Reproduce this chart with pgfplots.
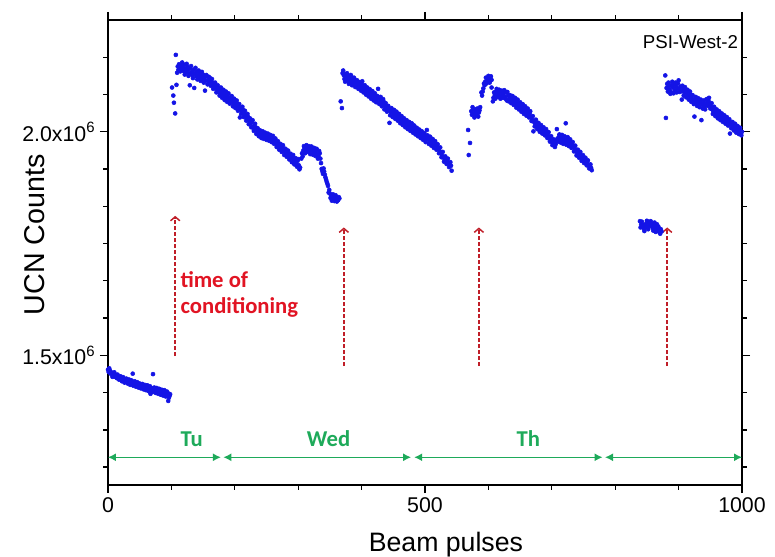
\documentclass[border=0pt]{standalone}
\usepackage{pgfplots}
\pgfplotsset{compat=1.18}
\usepackage{fontspec}
\setmainfont{Liberation Sans}
\newfontfamily\calibri{Carlito}
\usetikzlibrary{arrows.meta}
\definecolor{dotblue}{RGB}{20,20,230}
\definecolor{arrred}{RGB}{192,30,40}
\definecolor{txtred}{RGB}{225,20,35}
\definecolor{grn}{RGB}{30,170,90}

% UCN counts (in units of 10^6) vs beam pulse number
\pgfplotstableread{
x y
0 1.468
1 1.463
3 1.466
4 1.459
6 1.461
8 1.455
9 1.458
11 1.452
12 1.456
14 1.449
16 1.453
18 1.450
19 1.446
21 1.449
23 1.444
25 1.447
27 1.441
28 1.445
30 1.440
32 1.443
34 1.438
36 1.441
38 1.436
39 1.459
41 1.439
43 1.434
45 1.437
47 1.432
49 1.436
51 1.430
53 1.434
55 1.428
57 1.432
59 1.427
61 1.431
63 1.424
65 1.429
67 1.414
68 1.423
69 1.427
71 1.458
72 1.421
74 1.426
76 1.420
78 1.424
80 1.418
82 1.422
84 1.416
86 1.421
88 1.415
90 1.419
92 1.412
94 1.416
95 1.398
96 1.414
97 1.409
98 1.413
101 2.099
103 2.081
104 2.065
106 2.041
107 2.172
108 2.105
109 2.132
110 2.146
111 2.138
112 2.151
113 2.142
114 2.135
115 2.148
116 2.140
118 2.145
119 2.136
120 2.150
122 2.141
123 2.133
125 2.146
126 2.139
128 2.131
129 2.104
130 2.141
132 2.133
133 2.127
135 2.138
136 2.098
137 2.130
139 2.124
140 2.134
142 2.127
144 2.120
145 2.131
147 2.125
149 2.118
150 2.128
152 2.121
153 2.092
154 2.114
156 2.124
158 2.116
160 2.110
161 2.120
163 2.112
165 2.104
167 2.108
168 2.098
170 2.101
172 2.093
174 2.097
175 2.088
177 2.092
179 2.083
181 2.088
183 2.079
185 2.083
187 2.075
189 2.079
191 2.071
193 2.075
194 2.068
196 2.072
198 2.064
200 2.068
202 2.060
204 2.063
206 2.055
208 2.032
209 2.051
211 2.046
213 2.049
215 2.040
217 2.036
219 2.030
221 2.033
223 2.024
225 2.019
227 2.022
229 2.012
231 2.008
233 2.010
235 2.002
237 1.998
239 2.000
241 1.994
243 1.996
245 1.991
247 1.993
249 1.989
251 1.992
253 1.987
255 1.989
257 1.984
259 1.987
261 1.982
263 1.978
265 1.975
267 1.971
269 1.973
271 1.967
273 1.963
275 1.966
277 1.960
279 1.956
281 1.952
283 1.955
285 1.948
287 1.944
289 1.941
291 1.945
293 1.937
295 1.933
297 1.929
299 1.935
301 1.925
303 1.920
305 1.940
306 1.952
308 1.958
310 1.963
312 1.960
314 1.966
316 1.962
318 1.958
320 1.963
322 1.957
324 1.960
326 1.954
328 1.958
330 1.950
332 1.946
334 1.952
335 1.940
337 1.917
339 1.906
341 1.911
343 1.898
345 1.888
347 1.879
349 1.870
350 1.862
352 1.857
354 1.852
356 1.855
358 1.850
360 1.853
362 1.849
364 1.854
365 1.851
367 2.068
369 2.053
370 2.131
372 2.126
373 2.118
375 2.129
376 2.121
378 2.114
379 2.125
381 2.118
382 2.110
384 2.122
386 2.115
387 2.108
389 2.117
391 2.110
392 2.103
394 2.112
396 2.105
398 2.099
400 2.107
402 2.100
404 2.094
406 2.098
408 2.090
410 2.094
412 2.086
414 2.089
416 2.081
418 2.085
420 2.077
422 2.080
424 2.073
426 2.096
427 2.076
429 2.068
431 2.072
433 2.064
435 2.067
437 2.058
439 2.054
441 2.048
443 2.051
444 2.020
446 2.044
448 2.047
450 2.040
452 2.043
454 2.036
456 2.039
458 2.031
460 2.034
462 2.026
464 2.029
466 2.021
468 2.025
470 2.017
472 2.020
474 2.013
476 2.017
478 2.009
480 2.013
482 2.006
484 2.009
486 2.001
488 2.004
490 1.997
492 2.000
494 1.993
496 1.996
498 1.989
500 1.992
502 1.984
503 2.004
505 1.987
507 1.980
509 1.983
511 1.976
513 1.979
515 1.971
517 1.974
519 1.966
521 1.962
523 1.957
525 1.952
527 1.947
529 1.943
531 1.938
533 1.934
535 1.937
537 1.930
539 1.926
540 1.932
542 1.913
568 2.004
569 1.948
571 1.975
573 2.046
574 2.038
576 2.050
577 2.041
579 2.036
580 2.047
582 2.040
583 2.052
585 2.043
587 2.055
589 2.088
590 2.081
592 2.097
594 2.104
595 2.112
597 2.108
599 2.118
601 2.113
603 2.120
605 2.116
605 2.099
607 2.068
608 2.076
610 2.082
612 2.090
614 2.084
616 2.087
618 2.080
620 2.088
622 2.082
624 2.086
626 2.079
628 2.089
629 2.070
631 2.082
633 2.076
635 2.071
637 2.075
639 2.066
641 2.070
643 2.061
645 2.065
647 2.057
649 2.060
651 2.052
653 2.056
655 2.047
657 2.051
659 2.043
661 2.046
663 2.039
665 2.042
667 2.034
669 2.028
671 2.001
672 2.022
674 2.017
676 2.020
678 2.011
680 2.014
682 2.006
684 2.009
686 2.002
688 2.005
690 1.998
692 2.001
694 1.993
696 1.988
698 1.983
700 1.978
702 1.974
704 1.977
706 1.972
708 2.006
709 1.985
711 1.988
713 1.983
715 1.987
717 1.980
719 1.984
721 1.978
722 2.019
724 1.982
726 1.976
728 1.979
730 1.972
732 1.975
734 1.968
736 1.963
738 1.958
740 1.953
742 1.948
744 1.951
746 1.943
748 1.940
750 1.943
752 1.936
754 1.933
756 1.930
758 1.926
760 1.922
762 1.919
763 1.914
839 1.800
841 1.793
843 1.787
845 1.784
847 1.791
849 1.795
851 1.788
853 1.798
855 1.796
857 1.790
859 1.785
861 1.791
863 1.782
865 1.787
867 1.779
869 1.784
871 1.772
873 1.777
879 2.126
880 2.031
881 2.098
882 2.107
883 2.090
885 2.101
886 2.094
888 2.104
889 2.088
891 2.099
893 2.106
894 2.093
896 2.102
898 2.096
899 2.108
901 2.097
903 2.101
904 2.091
905 2.072
907 2.096
909 2.088
911 2.092
913 2.085
915 2.089
917 2.080
919 2.083
921 2.075
923 2.070
925 2.034
926 2.072
928 2.066
930 2.071
932 2.063
934 2.067
936 2.026
937 2.060
939 2.064
941 2.057
943 2.061
945 2.066
947 2.070
949 2.063
951 2.056
953 2.050
955 2.046
957 2.049
959 2.041
961 2.044
963 2.037
965 2.040
967 2.033
969 2.036
971 2.029
973 2.032
975 2.026
977 2.029
979 2.022
981 1.996
982 2.019
984 2.015
986 2.011
988 2.013
990 2.006
992 2.009
994 2.003
996 2.005
998 1.999
1000 2.000
}\ucndata

% further points
\pgfplotstableread{
x y
2 1.471
5 1.462
7 1.452
10 1.462
13 1.451
15 1.457
17 1.446
20 1.453
22 1.442
24 1.451
26 1.439
29 1.448
31 1.437
33 1.446
35 1.434
37 1.444
40 1.432
42 1.442
44 1.430
46 1.440
48 1.428
50 1.437
52 1.426
54 1.436
56 1.424
58 1.434
60 1.422
62 1.433
64 1.420
66 1.431
70 1.418
73 1.428
75 1.416
77 1.427
79 1.414
81 1.425
83 1.412
85 1.423
87 1.410
89 1.422
91 1.408
93 1.419
96 1.405
117 2.155
121 2.128
124 2.152
127 2.125
131 2.147
134 2.120
138 2.143
141 2.117
143 2.137
146 2.114
148 2.134
151 2.110
155 2.127
157 2.106
159 2.123
162 2.103
164 2.118
166 2.096
169 2.110
171 2.088
173 2.104
176 2.081
178 2.099
180 2.076
182 2.094
184 2.071
186 2.090
188 2.067
190 2.086
192 2.063
195 2.080
197 2.057
199 2.074
201 2.053
203 2.070
205 2.047
207 2.062
210 2.040
212 2.056
214 2.033
216 2.047
218 2.025
220 2.040
222 2.017
224 2.030
226 2.010
228 2.026
230 2.002
232 2.018
234 1.995
236 2.008
238 1.990
240 2.003
242 1.986
244 2.001
246 1.984
248 1.998
250 1.982
252 1.996
254 1.980
256 1.993
258 1.977
260 1.991
262 1.973
264 1.985
266 1.966
268 1.979
270 1.960
272 1.973
274 1.955
276 1.970
278 1.948
280 1.962
282 1.944
284 1.958
286 1.938
288 1.951
290 1.932
292 1.948
294 1.927
296 1.941
298 1.922
300 1.939
302 1.916
307 1.945
309 1.968
311 1.952
313 1.970
315 1.955
317 1.968
319 1.950
321 1.967
323 1.949
325 1.964
327 1.946
329 1.962
331 1.940
333 1.957
336 1.930
338 1.912
340 1.918
342 1.904
344 1.893
346 1.884
348 1.864
351 1.852
353 1.846
355 1.860
357 1.845
359 1.858
361 1.844
363 1.847
371 2.137
374 2.112
377 2.131
380 2.107
383 2.127
385 2.104
388 2.121
390 2.100
393 2.115
395 2.096
397 2.111
399 2.092
401 2.113
403 2.088
405 2.104
407 2.083
409 2.099
411 2.079
413 2.095
415 2.074
417 2.091
419 2.070
421 2.086
423 2.066
425 2.080
428 2.062
430 2.078
432 2.057
434 2.073
436 2.050
438 2.064
440 2.045
442 2.058
445 2.037
447 2.053
449 2.033
451 2.049
453 2.029
455 2.045
457 2.025
459 2.040
461 2.019
463 2.035
465 2.015
467 2.030
469 2.010
471 2.026
473 2.006
475 2.022
477 2.002
479 2.019
481 1.998
483 2.014
485 1.994
487 2.009
489 1.990
491 2.005
493 1.986
495 2.001
497 1.982
499 1.997
501 1.977
504 1.992
506 1.973
508 1.989
510 1.969
512 1.984
514 1.964
516 1.979
518 1.960
520 1.972
522 1.952
524 1.965
526 1.943
528 1.955
530 1.933
532 1.945
534 1.928
536 1.940
538 1.921
541 1.924
575 2.055
578 2.032
581 2.051
584 2.034
586 2.048
591 2.090
593 2.108
596 2.121
598 2.111
600 2.125
602 2.110
604 2.124
609 2.088
611 2.074
613 2.096
615 2.078
617 2.094
619 2.074
621 2.092
623 2.076
625 2.093
627 2.074
630 2.089
632 2.068
634 2.082
636 2.064
638 2.080
640 2.060
642 2.076
644 2.054
646 2.072
648 2.050
650 2.066
652 2.045
654 2.062
656 2.040
658 2.057
660 2.036
662 2.052
664 2.032
666 2.046
668 2.024
670 2.035
673 2.012
675 2.027
677 2.006
679 2.020
681 2.000
683 2.015
685 1.996
687 2.010
689 1.992
691 2.006
693 1.986
695 1.999
697 1.978
699 1.990
701 1.970
703 1.983
705 1.966
707 1.980
710 1.978
712 1.994
714 1.976
716 1.993
718 1.973
720 1.990
723 1.971
725 1.988
727 1.968
729 1.983
731 1.964
733 1.977
735 1.956
737 1.969
739 1.947
741 1.960
743 1.942
745 1.955
747 1.935
749 1.948
751 1.930
753 1.942
755 1.925
757 1.936
759 1.918
761 1.927
840 1.786
842 1.799
844 1.792
846 1.778
848 1.786
850 1.801
852 1.782
854 1.790
856 1.800
858 1.794
860 1.779
862 1.797
864 1.776
866 1.793
868 1.788
870 1.775
872 1.782
884 2.110
887 2.085
890 2.112
892 2.086
895 2.110
897 2.088
900 2.115
902 2.089
906 2.103
908 2.081
910 2.100
912 2.077
914 2.094
916 2.072
918 2.090
920 2.067
922 2.082
924 2.062
927 2.078
929 2.058
931 2.075
933 2.055
935 2.072
938 2.052
940 2.070
942 2.050
944 2.073
946 2.058
948 2.076
950 2.052
952 2.064
954 2.040
956 2.056
958 2.035
960 2.050
962 2.030
964 2.046
966 2.026
968 2.041
970 2.022
972 2.037
974 2.018
976 2.033
978 2.014
980 2.028
983 2.008
985 2.022
987 2.003
989 2.018
991 1.998
993 2.013
995 1.995
997 2.009
999 1.992
}\ucnextra

\begin{document}
\begin{tikzpicture}
\begin{axis}[
    at={(0,0)}, anchor=south west,
    scale only axis, width=475.5pt, height=348.75pt,
    xmin=0, xmax=1000, ymin=1.21, ymax=2.25,
    clip=false,
    axis line style={line width=1.2pt},
    tick align=outside,
    every tick/.style={black, line width=1pt},
    major tick length=6pt, minor tick length=3.5pt,
    xtick={0,500,1000}, xticklabels={0,500,1000},
    minor xtick={100,200,300,400,600,700,800,900},
    ytick={1.5,2.0},
    yticklabels={1.5x10\textsuperscript{6},2.0x10\textsuperscript{6}},
    minor ytick={1.25,1.3333,1.4167,1.5833,1.6667,1.75,1.8333,1.9167,2.0833,2.1667},
    /pgf/number format/assume math mode=true,
    tick label style={font=\fontsize{16}{19}\selectfont},
    xlabel={Beam pulses}, ylabel={UCN Counts},
    every axis x label/.style={at={(axis description cs:0.533,-0.129)}, anchor=center, font=\fontsize{20}{24}\selectfont},
    every axis y label/.style={at={(axis description cs:-0.115,0.538)}, rotate=90, anchor=center, font=\fontsize{21.5}{25}\selectfont},
]
\addplot[only marks, mark=*, mark size=1.5pt, color=dotblue] table {\ucndata};
\addplot[only marks, mark=*, mark size=1.5pt, color=dotblue] table {\ucnextra};

% conditioning markers
\draw[arrred, line width=1.1pt, dash pattern=on 3pt off 1.5pt, -{Straight Barb[length=3pt,width=7pt]}] (axis cs:106,1.498) -- (axis cs:106,1.812);
\draw[arrred, line width=1.1pt, dash pattern=on 3pt off 1.5pt, -{Straight Barb[length=3pt,width=7pt]}] (axis cs:372,1.476) -- (axis cs:372,1.786);
\draw[arrred, line width=1.1pt, dash pattern=on 3pt off 1.5pt, -{Straight Barb[length=3pt,width=7pt]}] (axis cs:585,1.476) -- (axis cs:585,1.786);
\draw[arrred, line width=1.1pt, dash pattern=on 3pt off 1.5pt, -{Straight Barb[length=3pt,width=7pt]}] (axis cs:882,1.476) -- (axis cs:882,1.786);
\node[anchor=west, align=left, text=txtred, font=\calibri\bfseries\fontsize{17}{20}\selectfont, inner sep=0pt] at (axis cs:114,1.636) {time of\\conditioning};

% days
\draw[grn, line width=0.9pt, {Latex[length=6pt,width=6pt]}-{Latex[length=6pt,width=6pt]}] (axis cs:0,1.272) -- (axis cs:178,1.272);
\draw[grn, line width=0.9pt, {Latex[length=6pt,width=6pt]}-{Latex[length=6pt,width=6pt]}] (axis cs:182,1.272) -- (axis cs:478,1.272);
\draw[grn, line width=0.9pt, {Latex[length=6pt,width=6pt]}-{Latex[length=6pt,width=6pt]}] (axis cs:483,1.272) -- (axis cs:780,1.272);
\draw[grn, line width=0.9pt, {Latex[length=6pt,width=6pt]}-{Latex[length=6pt,width=6pt]}] (axis cs:784,1.272) -- (axis cs:1000,1.272);
\node[text=grn, font=\calibri\bfseries\fontsize{17}{20}\selectfont] at (axis cs:132,1.313) {Tu};
\node[text=grn, font=\calibri\bfseries\fontsize{17}{20}\selectfont] at (axis cs:348,1.313) {Wed};
\node[text=grn, font=\calibri\bfseries\fontsize{17}{20}\selectfont] at (axis cs:663,1.313) {Th};

\node[anchor=east, font=\fontsize{14}{17}\selectfont, inner sep=0pt] at (axis cs:994,2.2) {PSI-West-2};
\end{axis}
\pgfresetboundingbox
\path (-81pt,-54pt) rectangle (500.25pt,363.75pt);
\end{tikzpicture}
\end{document}
